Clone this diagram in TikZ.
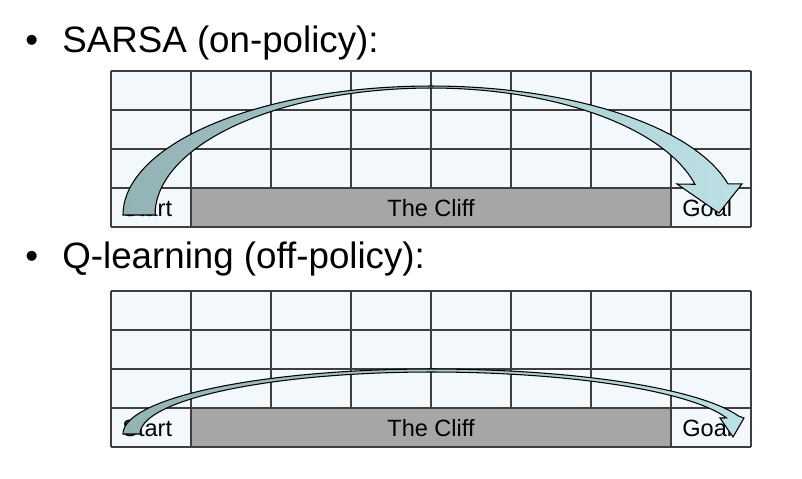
\documentclass[tikz,border=0pt]{standalone}
\usepackage{fontspec}
\setmainfont{Liberation Sans}
\definecolor{cellc}{HTML}{F2F8FB}
\definecolor{gridc}{HTML}{3F3F3F}
\definecolor{cliffc}{HTML}{A6A6A6}
\definecolor{arrowL}{HTML}{93B3B5}
\definecolor{arrowR}{HTML}{BCE0E4}
\begin{document}
\begin{tikzpicture}[x=0.02cm,y=-0.02cm,
  gridline/.style={draw=gridc, line width=1.1pt},
  titletext/.style={anchor=base west, inner sep=0pt, font=\fontsize{20.9}{25}\selectfont},
  celltext/.style={anchor=base west, inner sep=0pt, font=\fontsize{13.4}{16}\selectfont},
  cliffbox/.style={fill=cliffc, draw=none, minimum width=9.6cm, minimum height=0.78cm, inner sep=0pt, anchor=north west},
  bigarrow/.style={draw=black, line width=0.6pt, left color=arrowL, right color=arrowR}]
\useasboundingbox (0,0) rectangle (802,478);

% titles
\node[titletext] (b1) at (25,52) {•};
\node[titletext] (t1) at (62,52) {SARSA (on-policy):};
\node[titletext] (b2) at (25,268) {•};
\node[titletext] (t2) at (62,268) {Q-learning (off-policy):};

% grids
\foreach \g/\top in {1/71, 2/291} {
  \fill[cellc] (111,\top) rectangle (751,\top+156);
  \node[cliffbox] (cliff\g) at (191,\top+117) {};
  \foreach \i in {0,1,7,8} \draw[gridline] (111+80*\i,\top) -- (111+80*\i,\top+156);
  \foreach \i in {2,...,6} \draw[gridline] (111+80*\i,\top) -- (111+80*\i,\top+117);
  \foreach \j in {0,...,4} \draw[gridline] (111,\top+39*\j) -- (751,\top+39*\j);
}

% cell texts
\node[celltext] (start1) at (122,216) {Start};
\node[celltext, anchor=base] (clifftext1) at (431,216) {The Cliff};
\node[celltext] (goal1) at (682,216) {Goal};
\node[celltext] (start2) at (122,436) {Start};
\node[celltext, anchor=base] (clifftext2) at (431,436) {The Cliff};
\node[celltext] (goal2) at (682,436) {Goal};

% SARSA arrow
\path[bigarrow]
  plot[domain=180:90,samples=50] ({431+308*cos(\x)},{215-129*sin(\x)})
  -- plot[domain=90:14,samples=50] ({431+306*cos(\x)},{215-129*sin(\x)})
  -- (742,184) -- (719,213) -- (677,184)
  -- plot[domain=14:90,samples=50] ({431+272*cos(\x)},{215-127*sin(\x)})
  -- plot[domain=90:180,samples=50] ({431+276*cos(\x)},{215-127*sin(\x)})
  -- cycle;

% Q-learning arrow
\path[bigarrow]
  plot[domain=180:90,samples=50] ({431+308*cos(\x)},{434-65*sin(\x)})
  -- plot[domain=90:16,samples=50] ({431+320*cos(\x)},{434-65*sin(\x)})
  -- (744,418) -- (733,437) -- (720,418)
  -- plot[domain=15:90,samples=50] ({431+306*cos(\x)},{434-62*sin(\x)})
  -- plot[domain=90:180,samples=50] ({431+291*cos(\x)},{434-62*sin(\x)})
  -- cycle;
\end{tikzpicture}
\end{document}
